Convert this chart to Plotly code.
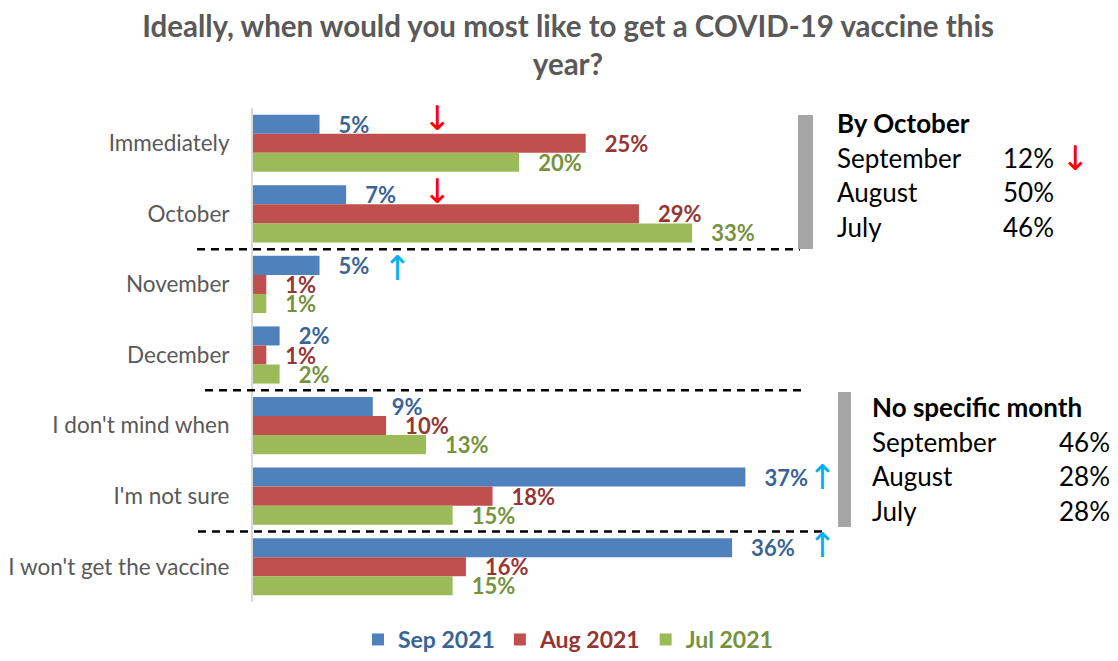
import plotly.graph_objects as go

# ---- data -------------------------------------------------------------
categories = ["Immediately", "October", "November", "December",
              "I don't mind when", "I'm not sure", "I won't get the vaccine"]
sep_2021 = [5, 7, 5, 2, 9, 37, 36]
aug_2021 = [25, 29, 1, 1, 10, 18, 16]
jul_2021 = [20, 33, 1, 2, 13, 15, 15]

series_names = ["Sep 2021", "Aug 2021", "Jul 2021"]
series_values = [sep_2021, aug_2021, jul_2021]

# summary panels on the right
by_october_title = "By October"
by_october_rows = ["September", "August", "July"]
by_october_values = ["12%", "50%", "46%"]
no_month_title = "No specific month"
no_month_rows = ["September", "August", "July"]
no_month_values = ["46%", "28%", "28%"]

# change markers: (category, symbol, colour)
change_marks = [("Immediately", "↓", "#FF0000"),
                ("October", "↓", "#FF0000"),
                ("November", "↑", "#00B0F0"),
                ("I'm not sure", "↑", "#00B0F0"),
                ("I won't get the vaccine", "↑", "#00B0F0")]

# ---- styling ----------------------------------------------------------
bar_colors = ["#4F81BD", "#C0504D", "#9BBB59"]
label_colors = ["#3B6496", "#943634", "#76923C"]
FONT = "Lato"
GREY_TEXT = "#595959"
ARROW_FONT = dict(family="DejaVu Sans", size=34)

# canvas and plot-area geometry (pixels); the paper spans the whole canvas
W, H = 1118, 661
PLOT_LEFT, PLOT_RIGHT, PLOT_TOP, PLOT_BOTTOM = 253, 1118, 108, 602
X_MAX = 65


def px_x(px):
    return px / W


def px_y(py):
    return 1 - py / H


def x_of_px(px):
    return (px - PLOT_LEFT) / (PLOT_RIGHT - PLOT_LEFT) * X_MAX


fig = go.Figure()
PAD = "\u00a0\u00a0\u00a0"
for name, vals, col, lcol in zip(series_names, series_values, bar_colors, label_colors):
    fig.add_trace(go.Bar(
        y=categories, x=vals, orientation="h",
        name=f"<span style='color:{lcol}'>{name}</span>",
        marker=dict(color=col, line=dict(width=0)),
        text=[f"{PAD}{v}%" for v in vals],
        textposition="outside",
        textfont=dict(family=FONT, size=22, color=lcol, weight="bold"),
        constraintext="none",
        cliponaxis=False,
        hoverinfo="skip",
    ))

shapes = []
# dashed separators between groups of answers
for yb, x0, x1 in [(1.5, 197, 800), (3.5, 205, 806), (5.5, 198, 828)]:
    shapes.append(dict(type="line", xref="paper", yref="y",
                       x0=px_x(x0), x1=px_x(x1), y0=yb, y1=yb,
                       line=dict(color="black", width=2.5, dash="8px,6px")))
# grey brackets beside the summary panels
for x0, x1, y0, y1 in [(798, 813, 115, 249), (838, 851, 392, 527)]:
    shapes.append(dict(type="rect", xref="paper", yref="paper",
                       x0=px_x(x0), x1=px_x(x1), y0=px_y(y1), y1=px_y(y0),
                       fillcolor="#A6A6A6", line=dict(width=0)))

annotations = []


def panel(title, rows, values, x_left, x_right, y_top):
    annotations.append(dict(xref="paper", yref="paper", x=px_x(x_left), y=px_y(y_top),
                            text=f"<b>{title}</b>", showarrow=False,
                            xanchor="left", yanchor="middle",
                            font=dict(family=FONT, size=26, color="black")))
    for i, (r, v) in enumerate(zip(rows, values)):
        yy = y_top + 34.5 * (i + 1)
        annotations.append(dict(xref="paper", yref="paper", x=px_x(x_left), y=px_y(yy),
                                text=r, showarrow=False, xanchor="left", yanchor="middle",
                                font=dict(family=FONT, size=26, color="black")))
        annotations.append(dict(xref="paper", yref="paper", x=px_x(x_right), y=px_y(yy),
                                text=v, showarrow=False, xanchor="right", yanchor="middle",
                                font=dict(family=FONT, size=26, color="black")))


panel(by_october_title, by_october_rows, by_october_values, 835, 1056, 123)
panel(no_month_title, no_month_rows, no_month_values, 870, 1112, 407)

# arrow next to September in the "By October" panel
annotations.append(dict(xref="paper", yref="paper", x=px_x(1075), y=px_y(158),
                        text="↓", showarrow=False, xanchor="center", yanchor="middle",
                        font=dict(ARROW_FONT, color="#FF0000")))

arrow_x = {"Immediately": 437, "October": 437, "November": 397,
           "I'm not sure": 822, "I won't get the vaccine": 822}
arrow_shift = {"Immediately": 25, "October": 23, "November": 16,
               "I'm not sure": 19, "I won't get the vaccine": 22}
for cat, sym, col in change_marks:
    annotations.append(dict(xref="x", yref="y", x=x_of_px(arrow_x[cat]), y=cat,
                            yshift=arrow_shift[cat], text=sym, showarrow=False,
                            xanchor="center", yanchor="middle",
                            font=dict(ARROW_FONT, color=col)))

fig.update_layout(
    width=W, height=H,
    margin=dict(l=0, r=0, t=0, b=0, pad=0),
    paper_bgcolor="white", plot_bgcolor="white",
    barmode="group", bargap=0.19, bargroupgap=0,
    title=dict(text="Ideally, when would you most like to get a COVID-19 vaccine this<br>year?",
               x=568 / W, xanchor="center", xref="container",
               y=1 - 37 / H, yanchor="middle", yref="container",
               font=dict(family=FONT, size=29.5, color=GREY_TEXT, weight="bold")),
    xaxis=dict(domain=[px_x(PLOT_LEFT), px_x(PLOT_RIGHT)], range=[0, X_MAX],
               visible=False, fixedrange=True),
    yaxis=dict(domain=[px_y(PLOT_BOTTOM), px_y(PLOT_TOP)], automargin=False,
               range=[len(categories) - 0.5, -0.5], type="category",
               showline=True, linecolor="#D9D9D9", linewidth=2,
               showgrid=False, zeroline=False, ticks="outside", ticklen=17,
               tickcolor="rgba(0,0,0,0)",
               tickfont=dict(family=FONT, size=22.5, color=GREY_TEXT)),
    legend=dict(orientation="h", x=px_x(568), xanchor="center",
                y=0, yanchor="bottom", traceorder="normal",
                font=dict(family=FONT, size=23, weight="bold"),
                itemclick=False, itemdoubleclick=False),
    shapes=shapes,
    annotations=annotations,
    showlegend=True,
)

fig.write_html("out.html")
